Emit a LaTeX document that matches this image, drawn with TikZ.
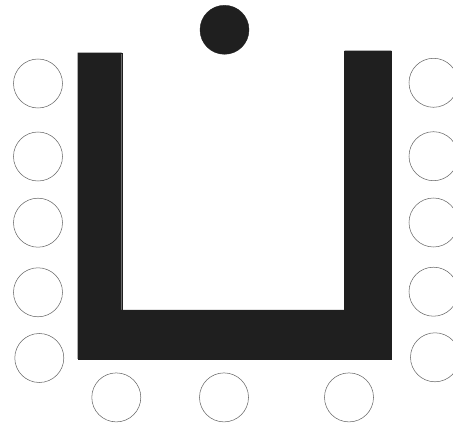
\documentclass[tikz,border=0pt]{standalone}
\usepackage{tikz}
\tikzset{
  ushape/.style={fill=black!88, draw=black!88, line width=0.4pt},
  seat/.style={fill=white, draw=black!60, line width=0.6pt},
  headseat/.style={fill=black!88, draw=black!88, line width=0.4pt},
}

\begin{document}
\begin{tikzpicture}
\useasboundingbox (0,0) rectangle (18.12,16.92);
% table
\draw[ushape] (3.108,14.812) -- (4.868,14.812) -- (4.868,4.520) -- (13.780,4.520)
  -- (13.780,14.892) -- (15.652,14.892) -- (15.652,2.560) -- (3.108,2.560) -- cycle;
% head of the table
\draw[headseat] (8.980,15.728) circle (0.98);
% left side
\draw[seat] (1.520,13.580) circle (0.98);
\draw[seat] (1.520,10.660) circle (0.98);
\draw[seat] (1.520,8.012) circle (0.98);
\draw[seat] (1.520,5.228) circle (0.98);
\draw[seat] (1.572,2.600) circle (0.98);
% right side
\draw[seat] (17.340,13.608) circle (0.98);
\draw[seat] (17.340,10.672) circle (0.98);
\draw[seat] (17.340,8.020) circle (0.98);
\draw[seat] (17.340,5.252) circle (0.98);
\draw[seat] (17.400,2.628) circle (0.98);
% bottom
\draw[seat] (4.652,1.024) circle (0.98);
\draw[seat] (8.960,1.024) circle (0.98);
\draw[seat] (13.960,1.024) circle (0.98);
\end{tikzpicture}
\end{document}
